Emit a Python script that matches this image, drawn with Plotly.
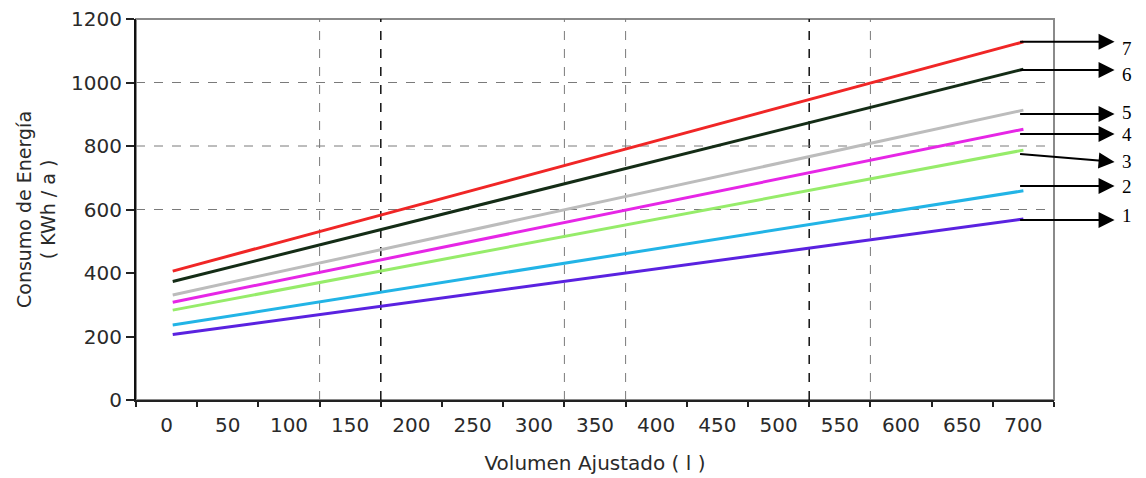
import plotly.graph_objects as go

# ---- data ----
series_names = ["1", "2", "3", "4", "5", "6", "7"]
volume_l = [5, 700]
energy_start = [206, 236, 283, 308, 331, 373, 406]
energy_end = [570, 659, 787, 853, 913, 1042, 1128]
series_colors = ["#5a22e0", "#22b4e6", "#96ec6a", "#e626e6", "#bcbcbc", "#142c16", "#f02626"]

x_tick_labels = [str(v) for v in range(0, 701, 50)]
x_tick_vals = list(range(0, 701, 50))
x_tick_marks = list(range(-25, 726, 50))
y_tick_vals = list(range(0, 1201, 200))

vgrid_grey = [125, 325, 375, 575]
vgrid_dark = [175, 525]
hgrid = [600, 800, 1000]

# callout arrows on the right (tail y, tip y, label y in data units)
arrow_tail_y = [567, 674, 775, 838, 901, 1039, 1128]
arrow_tip_y = [567, 674, 750, 838, 901, 1039, 1128]
label_y = [580, 674, 750, 835, 907, 1024, 1106]

font_main = "DejaVu Sans, Verdana, sans-serif"

fig = go.Figure()
for name, y0, y1, col in zip(series_names, energy_start, energy_end, series_colors):
    fig.add_trace(go.Scatter(x=volume_l, y=[y0, y1], mode="lines", name=name,
                             line=dict(color=col, width=3), showlegend=False))

shapes = [dict(type="rect", xref="paper", yref="paper", x0=0, x1=1, y0=0, y1=1,
               line=dict(color="#8a8a8a", width=2), layer="below")]
for v in vgrid_grey:
    shapes.append(dict(type="line", xref="x", yref="paper", x0=v, x1=v, y0=0, y1=1,
                       line=dict(color="#7a7a7a", width=1, dash="dash"), layer="below"))
for v in vgrid_dark:
    shapes.append(dict(type="line", xref="x", yref="paper", x0=v, x1=v, y0=0, y1=1,
                       line=dict(color="#111111", width=1.5, dash="dash"), layer="below"))
for v in hgrid:
    shapes.append(dict(type="line", xref="paper", yref="y", x0=0, x1=1, y0=v, y1=v,
                       line=dict(color="#7a7a7a", width=1, dash="dash"), layer="below"))

annotations = []
for name, ty, hy, ly in zip(series_names, arrow_tail_y, arrow_tip_y, label_y):
    annotations.append(dict(xref="paper", yref="y", x=1.066, y=hy, text="",
                            showarrow=True, axref="pixel", ayref="pixel",
                            ax=-96, ay=(hy - ty) * 0.3175,
                            arrowhead=2, arrowsize=1.6, arrowwidth=2, arrowcolor="black"))
    annotations.append(dict(xref="paper", yref="y", x=1.072, y=ly, text=name,
                            showarrow=False, xanchor="left",
                            font=dict(family="Liberation Serif, Times New Roman, serif",
                                      size=19, color="black")))

fig.update_layout(
    width=1146, height=478,
    margin=dict(l=136, r=92, t=19, b=78),
    paper_bgcolor="white", plot_bgcolor="white",
    font=dict(family=font_main, size=20, color="#2a2a2a"),
    shapes=shapes, annotations=annotations,
    xaxis=dict(range=[-25, 725], tickmode="array", tickvals=x_tick_vals,
               ticktext=x_tick_labels, ticks="", showgrid=False, zeroline=False,
               showline=True, linecolor="#222", linewidth=2, ticklabelstandoff=6,
               automargin=False,
               minor=dict(tickmode="array", tickvals=x_tick_marks, ticks="outside",
                          ticklen=5, tickwidth=2, tickcolor="#222", showgrid=False),
               title=dict(text="Volumen Ajustado ( l )", font=dict(size=20), standoff=20),
               tickfont=dict(size=20)),
    yaxis=dict(range=[0, 1200], tickmode="array", tickvals=y_tick_vals,
               ticks="outside", ticklen=8, tickwidth=2, tickcolor="#222",
               showgrid=False, zeroline=False, showline=True, linecolor="#111",
               linewidth=2, tickfont=dict(size=20), automargin=False,
               title=dict(text="Consumo de Energía<br>( KWh / a )", font=dict(size=19),
                          standoff=10)),
)

fig.write_html("out.html", config={"displayModeBar": False},
               post_script="document.body.style.margin='0';")
